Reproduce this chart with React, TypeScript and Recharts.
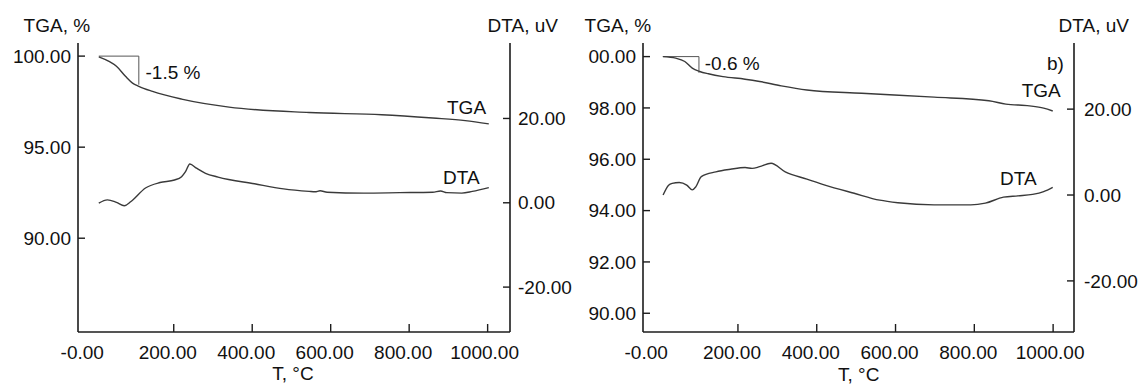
import React from 'react'
import { ComposedChart, Line, XAxis, YAxis, ReferenceLine } from 'recharts'

// temperature ticks (°C)
const tempTicks = [0, 200, 400, 600, 800, 1000]

// panel a) TGA (%)
const tgaA = [
  { t: 9, v: 99.96 }, { t: 35, v: 99.71 }, { t: 54, v: 99.44 }, { t: 77, v: 98.89 },
  { t: 95, v: 98.52 }, { t: 111, v: 98.34 }, { t: 146, v: 98.06 }, { t: 220, v: 97.64 },
  { t: 341, v: 97.2 }, { t: 545, v: 96.9 }, { t: 730, v: 96.78 }, { t: 860, v: 96.6 },
  { t: 943, v: 96.46 }, { t: 1003, v: 96.28 },
]
// panel a) DTA (uV)
const dtaA = [
  { t: 9, v: -0.1 }, { t: 31, v: 0.7 }, { t: 54, v: 0.1 }, { t: 74, v: -0.7 },
  { t: 91, v: 0.3 }, { t: 128, v: 3.5 }, { t: 165, v: 4.8 }, { t: 202, v: 5.4 },
  { t: 220, v: 6.2 }, { t: 230, v: 7.4 }, { t: 241, v: 9.2 }, { t: 258, v: 8.2 },
  { t: 281, v: 7.0 }, { t: 313, v: 6.1 }, { t: 406, v: 4.5 }, { t: 480, v: 3.3 },
  { t: 545, v: 2.7 }, { t: 560, v: 2.6 }, { t: 573, v: 2.85 }, { t: 591, v: 2.5 },
  { t: 684, v: 2.3 }, { t: 776, v: 2.4 }, { t: 860, v: 2.5 }, { t: 880, v: 2.8 },
  { t: 896, v: 2.4 }, { t: 934, v: 2.3 }, { t: 961, v: 2.7 }, { t: 1003, v: 3.6 },
]
const stepA = { t0: 9, t1: 111, top: 100, bottom: 98.43 }
const tgaTicksA = [90, 95, 100]

// panel b) TGA (%)
const tgaB = [
  { t: 10, v: 100.0 }, { t: 42, v: 99.94 }, { t: 65, v: 99.81 }, { t: 84, v: 99.55 },
  { t: 103, v: 99.42 }, { t: 125, v: 99.33 }, { t: 162, v: 99.22 }, { t: 218, v: 99.12 },
  { t: 255, v: 99.03 }, { t: 310, v: 98.86 }, { t: 375, v: 98.7 }, { t: 514, v: 98.57 },
  { t: 698, v: 98.42 }, { t: 837, v: 98.28 }, { t: 880, v: 98.15 }, { t: 940, v: 98.08 },
  { t: 976, v: 97.99 }, { t: 999, v: 97.88 },
]
// panel b) DTA (uV)
const dtaB = [
  { t: 10, v: 0.0 }, { t: 24, v: 2.3 }, { t: 33, v: 2.7 }, { t: 51, v: 2.9 },
  { t: 70, v: 2.3 }, { t: 84, v: 1.2 }, { t: 93, v: 1.9 }, { t: 107, v: 4.3 },
  { t: 144, v: 5.4 }, { t: 181, v: 6.0 }, { t: 218, v: 6.4 }, { t: 236, v: 6.2 },
  { t: 255, v: 6.6 }, { t: 284, v: 7.4 }, { t: 320, v: 5.4 }, { t: 375, v: 3.7 },
  { t: 421, v: 2.3 }, { t: 495, v: 0.4 }, { t: 560, v: -1.2 }, { t: 606, v: -1.8 },
  { t: 698, v: -2.3 }, { t: 791, v: -2.3 }, { t: 828, v: -1.9 }, { t: 874, v: -0.5 },
  { t: 911, v: -0.2 }, { t: 948, v: 0.15 }, { t: 976, v: 0.8 }, { t: 999, v: 1.8 },
]
const stepB = { t0: 9, t1: 101, top: 100, bottom: 99.37 }
const tgaTicksB = [90, 92, 94, 96, 98, 100]

const dtaTicks = [-20, 0, 20]

const FONT = '"Liberation Sans", Arial, sans-serif'
const FS = 19
const INK = '#111'
const FRAME = '#1c1c1c'
const CURVE = '#3a3a3a'

const fmt = (v: number) => v.toFixed(2)

function XTick(props: any) {
  const { x, y, payload } = props
  const v = payload.value
  const shift = v === 0 ? -13 : v === 1000 ? -3 : -6
  return (
    <g>
      {v !== 0 && <line x1={x} x2={x} y1={y} y2={y - 8} stroke={FRAME} strokeWidth={1.4} />}
      <text x={x + shift} y={y + 27} textAnchor="middle" fontSize={FS} fontFamily={FONT} fill={INK}>
        {v === 0 ? '-0.00' : fmt(v)}
      </text>
    </g>
  )
}

function LeftTick(props: any) {
  const { x, y, payload, short } = props
  const v = payload.value
  return (
    <g>
      <line x1={x} x2={x + 7} y1={y} y2={y} stroke={FRAME} strokeWidth={1.4} />
      <text x={x - 7} y={y + 6.7} textAnchor="end" fontSize={FS} fontFamily={FONT} fill={INK}>
        {short && v === 100 ? '00.00' : fmt(v)}
      </text>
    </g>
  )
}

function RightTick(props: any) {
  const { x, y, payload, gap } = props
  return (
    <g>
      <line x1={x} x2={x - 7} y1={y} y2={y} stroke={FRAME} strokeWidth={1.4} />
      <text x={x + gap} y={y + 6.7} textAnchor="start" fontSize={FS} fontFamily={FONT} fill={INK}>
        {fmt(payload.value)}
      </text>
    </g>
  )
}

interface PanelProps {
  width: number
  leftW: number
  rightW: number
  xDomain: [number, number]
  tgaDomain: [number, number]
  dtaDomain: [number, number]
  tgaTicks: number[]
  tga: { t: number; v: number }[]
  dta: { t: number; v: number }[]
  step: { t0: number; t1: number; top: number; bottom: number }
  short?: boolean
  rightGap: number
  marginRight: number
}

function Panel(p: PanelProps) {
  const axisLine = { stroke: FRAME, strokeWidth: 1.6 }
  return (
    <ComposedChart
      width={p.width} height={385}
      margin={{ top: 43, right: p.marginRight, bottom: 0, left: 0 }}
      style={{ overflow: 'visible' }}
    >
      <XAxis
        xAxisId="b" dataKey="t" type="number" domain={p.xDomain} ticks={tempTicks}
        allowDataOverflow height={53} tickSize={0} tickMargin={0} tickLine={false}
        axisLine={axisLine} tick={<XTick />}
      />
      <XAxis
        xAxisId="top" orientation="top" type="number" domain={p.xDomain}
        height={0} tick={false} tickLine={false} axisLine={axisLine}
      />
      <YAxis
        yAxisId="tga" type="number" domain={p.tgaDomain} ticks={p.tgaTicks} allowDataOverflow
        width={p.leftW} tickSize={0} tickMargin={0} tickLine={false} axisLine={axisLine}
        tick={<LeftTick short={p.short} />}
      />
      <YAxis
        yAxisId="dta" orientation="right" type="number" domain={p.dtaDomain} ticks={dtaTicks}
        allowDataOverflow width={p.rightW} tickSize={0} tickMargin={0} tickLine={false}
        axisLine={axisLine} tick={<RightTick gap={p.rightGap} />}
      />
      <ReferenceLine
        xAxisId="b" yAxisId="tga" stroke="#555" strokeWidth={1}
        segment={[{ x: p.step.t0, y: p.step.top }, { x: p.step.t1, y: p.step.top }]}
      />
      <ReferenceLine
        xAxisId="b" yAxisId="tga" stroke="#555" strokeWidth={1}
        segment={[{ x: p.step.t1, y: p.step.top }, { x: p.step.t1, y: p.step.bottom }]}
      />
      <Line
        xAxisId="b" yAxisId="tga" data={p.tga} dataKey="v" type="monotone"
        stroke={CURVE} strokeWidth={1.4} dot={false} isAnimationActive={false}
      />
      <Line
        xAxisId="b" yAxisId="dta" data={p.dta} dataKey="v" type="monotone"
        stroke={CURVE} strokeWidth={1.4} dot={false} isAnimationActive={false}
      />
    </ComposedChart>
  )
}

const textStyle = { fontSize: FS, fontFamily: FONT, fill: INK }

export default function App() {
  return (
    <div style={{ position: 'absolute', left: 0, top: 0, width: 1141, height: 385, background: '#fff', overflow: 'hidden' }}>
      <div style={{ position: 'absolute', left: 0, top: 0 }}>
        <Panel
          width={585} leftW={78} rightW={60} rightGap={8} marginRight={15}
          xDomain={[-44, 1057]} tgaDomain={[84.85, 100.72]} dtaDomain={[-30.65, 37.9]}
          tgaTicks={tgaTicksA} tga={tgaA} dta={dtaA} step={stepA}
        />
      </div>
      <div style={{ position: 'absolute', left: 570, top: 0 }}>
        <Panel
          width={571} leftW={73} rightW={67} rightGap={10} marginRight={0} short
          xDomain={[-41, 1053]} tgaDomain={[89.27, 100.53]} dtaDomain={[-31.9, 35.4]}
          tgaTicks={tgaTicksB} tga={tgaB} dta={dtaB} step={stepB}
        />
      </div>
      <svg width={1141} height={385} style={{ position: 'absolute', left: 0, top: 0, pointerEvents: 'none' }}>
        <text x={23.6} y={31.7} {...textStyle}>TGA, %</text>
        <text x={558} y={31.7} textAnchor="end" {...textStyle}>DTA, uV</text>
        <text x={145.5} y={78.7} {...textStyle}>-1.5 %</text>
        <text x={447} y={113.7} {...textStyle}>TGA</text>
        <text x={443} y={183.7} {...textStyle}>DTA</text>
        <text x={293} y={379.5} textAnchor="middle" {...textStyle}>T, °C</text>

        <text x={584.6} y={31.7} {...textStyle}>TGA, %</text>
        <text x={1129} y={31.7} textAnchor="end" {...textStyle}>DTA, uV</text>
        <text x={1047} y={69.7} {...textStyle}>b)</text>
        <text x={704.8} y={69.7} {...textStyle}>-0.6 %</text>
        <text x={1021.7} y={96.7} {...textStyle}>TGA</text>
        <text x={1000} y={184.7} {...textStyle}>DTA</text>
        <text x={858.7} y={380.5} textAnchor="middle" {...textStyle}>T, °C</text>
      </svg>
    </div>
  )
}
